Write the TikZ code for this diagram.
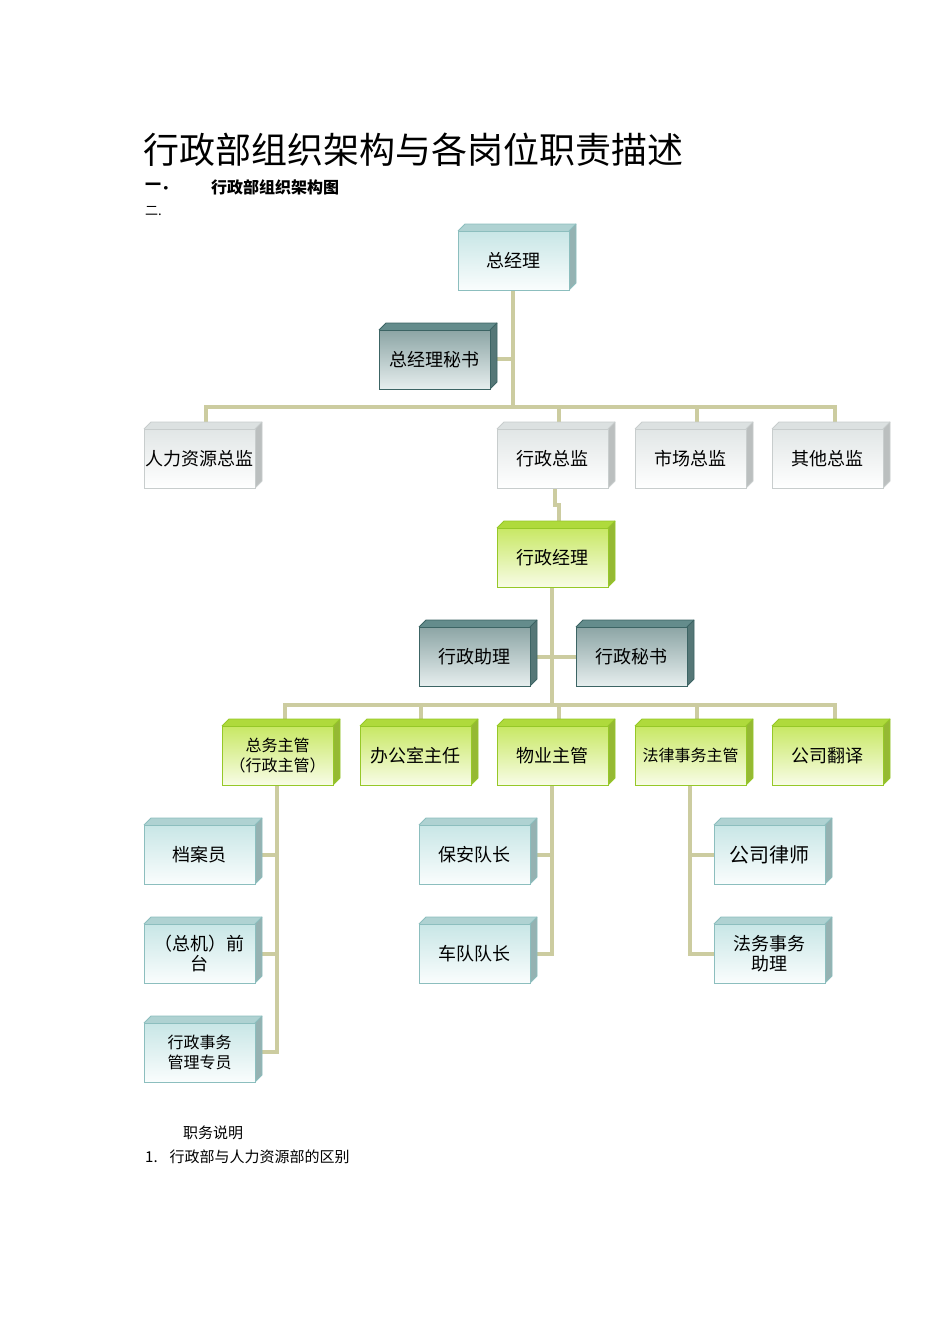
\documentclass[tikz,border=0pt]{standalone}
\usepackage{fontspec}
\setmainfont{Noto Sans CJK SC}
\newfontfamily\cjk{Noto Sans CJK SC}
\begin{document}
\begin{tikzpicture}[x=1pt,y=-1pt,
  conn/.style={draw={rgb,255:red,204;green,204;blue,160},line width=4pt},
  btxt/.style={font=\fontsize{18}{20}\selectfont,align=center,inner sep=0pt}]
\definecolor{cyT}{RGB}{200,230,230}\definecolor{cyB}{RGB}{250,253,253}\definecolor{cyD}{RGB}{140,190,190}\definecolor{cyS}{RGB}{175,210,210}
\definecolor{tkT}{RGB}{140,165,165}\definecolor{tkB}{RGB}{230,238,238}\definecolor{tkD}{RGB}{60,100,100}\definecolor{tkS}{RGB}{100,140,140}
\definecolor{grT}{RGB}{200,232,100}\definecolor{grB}{RGB}{248,252,230}\definecolor{grD}{RGB}{150,200,40}\definecolor{grS}{RGB}{175,218,60}
\definecolor{wtT}{RGB}{225,230,230}\definecolor{wtB}{RGB}{255,255,255}\definecolor{wtD}{RGB}{200,205,205}\definecolor{wtS}{RGB}{220,225,225}
\useasboundingbox (0,0) rectangle (950,1344);
\fill[white] (0,0) rectangle (950,1344);
\newcommand{\obox}[7]{%
  \fill[#6S] (#2,#3)--(#2+7,#3-7)--(#4+7,#3-7)--(#4,#3)--cycle;
  \fill[#6S!85!black] (#4,#3)--(#4+7,#3-7)--(#4+7,#5-7)--(#4,#5)--cycle;
  \draw[#6D,line width=0.8pt] (#2,#3)--(#2+7,#3-7)--(#4+7,#3-7)--(#4+7,#5-7)--(#4,#5);
  \draw[#6D,line width=0.8pt] (#4,#3)--(#4+7,#3-7);
  \shade[top color=#6T,bottom color=#6B] (#2,#3) rectangle (#4,#5);
  \draw[#6D,line width=1pt] (#2,#3) rectangle (#4,#5);
  \node[btxt] (#1) at ({(#2+#4)/2},{(#3+#5)/2}) {#7};}
% connectors
\draw[conn] (513,290)--(513,407);
\draw[conn] (490,359)--(513,359);
\draw[conn] (206,422)--(206,407)--(835,407)--(835,422);
\draw[conn] (559,407)--(559,422); \draw[conn] (697,407)--(697,422);
\draw[conn] (555,488)--(555,505)--(559,505)--(559,521);
\draw[conn] (552,587)--(552,705);
\draw[conn] (530,657)--(576,657);
\draw[conn] (285,719)--(285,705)--(835,705)--(835,719);
\draw[conn] (421,705)--(421,719); \draw[conn] (559,705)--(559,719); \draw[conn] (697,705)--(697,719);
\draw[conn] (277,785)--(277,1052)--(255,1052); \draw[conn] (255,855)--(277,855); \draw[conn] (255,954)--(277,954);
\draw[conn] (552,785)--(552,954)--(530,954); \draw[conn] (530,855)--(552,855);
\draw[conn] (690,785)--(690,954)--(714,954); \draw[conn] (690,855)--(714,855);
% boxes
\obox{gm}{458}{231}{569}{290}{cy}{总经理}
\obox{gms}{379}{330}{490}{389}{tk}{总经理秘书}
\obox{hr}{144}{429}{255}{488}{wt}{人力资源总监}
\obox{ad}{497}{429}{608}{488}{wt}{行政总监}
\obox{mk}{635}{429}{746}{488}{wt}{市场总监}
\obox{ot}{772}{429}{883}{488}{wt}{其他总监}
\obox{am}{497}{528}{608}{587}{gr}{行政经理}
\obox{aa}{419}{627}{530}{686}{tk}{行政助理}
\obox{as}{576}{627}{687}{686}{tk}{行政秘书}
\obox{gs}{222}{726}{333}{785}{gr}{\fontsize{16}{20}\selectfont 总务主管\\\fontsize{16}{20}\selectfont （行政主管）}
\obox{of}{360}{726}{471}{785}{gr}{办公室主任}
\obox{pm}{497}{726}{608}{785}{gr}{物业主管}
\obox{lg}{635}{726}{746}{785}{gr}{\fontsize{16}{20}\selectfont 法律事务主管}
\obox{tr}{772}{726}{883}{785}{gr}{公司翻译}
\obox{ar}{144}{825}{255}{884}{cy}{档案员}
\obox{fd}{144}{924}{255}{983}{cy}{（总机）前\\台}
\obox{ae}{144}{1023}{255}{1082}{cy}{\fontsize{16}{20}\selectfont 行政事务\\\fontsize{16}{20}\selectfont 管理专员}
\obox{sc}{419}{825}{530}{884}{cy}{保安队长}
\obox{fl}{419}{924}{530}{983}{cy}{车队队长}
\obox{lw}{714}{825}{825}{884}{cy}{\fontsize{20}{22}\selectfont 公司律师}
\obox{la}{714}{924}{825}{983}{cy}{法务事务\\助理}
% texts
\node[anchor=west,inner sep=0pt,font=\fontsize{36}{40}\selectfont] (title) at (143,150) {行政部组织架构与各岗位职责描述};
\node[anchor=west,inner sep=0pt,font=\fontsize{16}{18}\selectfont\bfseries] (h1) at (145,187) {一．};
\node[anchor=west,inner sep=0pt,font=\fontsize{16}{18}\selectfont\bfseries] (h1t) at (211,187) {行政部组织架构图};
\node[anchor=west,inner sep=0pt,font=\fontsize{13}{15}\selectfont] (h2) at (145,211) {二.};
\node[anchor=west,inner sep=0pt,font=\fontsize{15}{17}\selectfont] (d1) at (183,1133) {职务说明};
\node[anchor=west,inner sep=0pt,font=\fontsize{15}{17}\selectfont] (d2) at (145,1157) {1.\hspace{12pt}行政部与人力资源部的区别};
\end{tikzpicture}
\end{document}
